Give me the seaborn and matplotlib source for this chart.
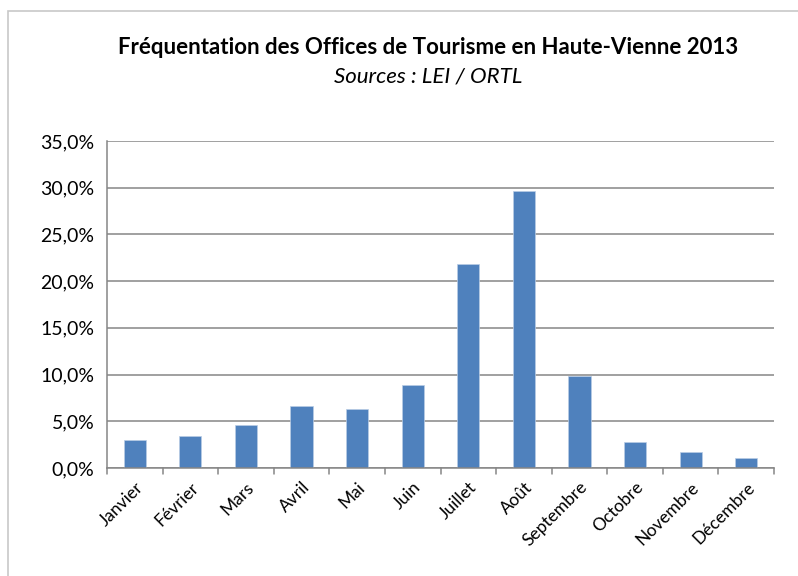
import seaborn as sns
from matplotlib import pyplot as plt
from matplotlib.patches import Rectangle
import pandas as pd

mois = ["Janvier", "Février", "Mars", "Avril", "Mai", "Juin", "Juillet",
        "Août", "Septembre", "Octobre", "Novembre", "Décembre"]
frequentation = [3.0, 3.45, 4.6, 6.65, 6.3, 8.9, 21.8, 29.7, 9.9, 2.8, 1.7, 1.05]
yticks = [0, 5, 10, 15, 20, 25, 30, 35]

df = pd.DataFrame({"mois": mois, "part": frequentation})

sns.set_style("white")
plt.rcParams['font.family'] = ['Lato', 'DejaVu Sans']
plt.rcParams['text.color'] = "black"
plt.rcParams['xtick.color'] = "black"
plt.rcParams['ytick.color'] = "black"

fig = plt.figure(figsize=(7.98, 5.76), dpi=100)
ax = fig.add_axes([107/798, 1 - 468/576, 667/798, 327/576])

# cadre du graphique (coin haut-gauche visible seulement)
fig.patches.append(Rectangle((8/798, -0.05), 1.2, 1 - 11/576 + 0.05,
                             transform=fig.transFigure, fill=False,
                             edgecolor="#c8c8c8", linewidth=1.2))

sns.barplot(x="mois", y="part", data=df, color="#4F81BD", width=0.4,
            saturation=1, edgecolor="#b9cde5", linewidth=0.5, ax=ax)

ax.set_ylim(0, 35)
ax.set_xlim(-0.5, len(mois) - 0.5)
ax.set_yticks(yticks)
ax.set_yticklabels([f"{v:.1f}%".replace(".", ",") for v in yticks], fontsize=14)
ax.yaxis.grid(True, color="#868686", linewidth=1.1)
ax.set_axisbelow(True)

ax.set_xticks(range(len(mois)))
ax.set_xticklabels(mois, rotation=45, ha="right", rotation_mode="anchor", fontsize=12.5)
ax.tick_params(axis="x", length=0, pad=8)
ax.tick_params(axis="y", length=5, color="#868686", width=1.1, pad=4, labelcolor="black")
# petites graduations entre catégories
for i in range(len(mois) + 1):
    ax.plot([i - 0.5, i - 0.5], [0, -0.6], color="#868686", lw=1.1, clip_on=False)

ax.set_xlabel("")
ax.set_ylabel("")
for s in ["top", "right"]:
    ax.spines[s].set_visible(False)
for s in ["left", "bottom"]:
    ax.spines[s].set_color("#868686")
    ax.spines[s].set_linewidth(1.1)

fig.text(428/798, 1 - 47/576, "Fréquentation des Offices de Tourisme en Haute-Vienne 2013",
         ha="center", va="center", fontsize=16, fontweight="bold")
fig.text(428/798, 1 - 77/576, "Sources : LEI / ORTL",
         ha="center", va="center", fontsize=16, style="italic")

fig.savefig("out.png", dpi=100)
